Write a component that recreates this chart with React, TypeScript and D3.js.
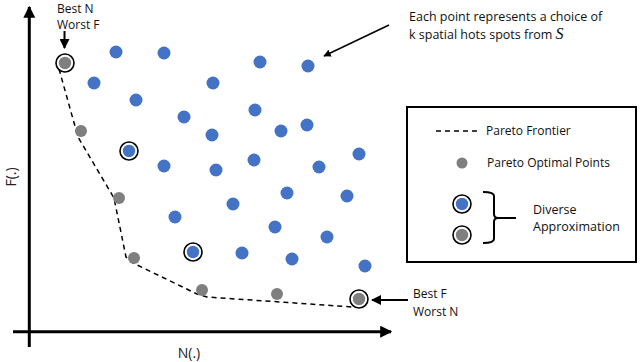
import React, { useEffect, useRef } from 'react';
import * as d3 from 'd3';

// candidate solutions (N, F) in arbitrary units
const candN = [8.6, 13.4, 23.0, 27.8, 6.4, 18.3, 10.6, 15.4, 22.5, 27.7, 25.1, 18.2, 9.9, 32.9, 13.4, 18.6, 22.4, 28.9, 25.7, 31.7, 20.3, 14.5, 24.5, 29.7, 16.3, 21.2, 26.2, 33.5];
const candF = [28.0, 27.9, 27.0, 26.6, 24.9, 24.9, 23.2, 21.5, 22.2, 20.7, 20.1, 19.7, 18.1, 17.8, 16.6, 16.2, 17.2, 16.5, 13.9, 13.6, 12.8, 11.5, 10.5, 9.5, 8.0, 7.9, 7.3, 6.6];
const candDiverse = [12, 24];

const paretoN = [3.5, 5.1, 8.9, 10.4, 17.2, 24.7, 32.9];
const paretoF = [26.9, 20.1, 13.4, 7.4, 4.2, 3.8, 3.3];
const paretoDiverse = [0, 6];

const frontierN = [2.9, 4.8, 8.4, 9.6, 10.3, 16.7, 17.7, 32.3];
const frontierF = [26.3, 19.5, 13.4, 7.5, 6.9, 3.8, 3.5, 2.5];

const BLUE = '#4472c4';
const GRAY = '#7f7f7f';
const FONT = '"Open Sans", sans-serif';

export default function App() {
  const ref = useRef<SVGSVGElement>(null);

  useEffect(() => {
    const svg = d3.select(ref.current);
    svg.selectAll('*').remove();

    const x = d3.scaleLinear().domain([0, 36]).range([30, 390]);
    const y = d3.scaleLinear().domain([0, 32]).range([332, 12]);

    const defs = svg.append('defs');
    defs.append('marker')
      .attr('id', 'arr')
      .attr('viewBox', '0 0 10 10')
      .attr('refX', 9).attr('refY', 5)
      .attr('markerWidth', 4).attr('markerHeight', 4)
      .attr('orient', 'auto-start-reverse')
      .append('path').attr('d', 'M0,0L10,5L0,10z').attr('fill', '#000');
    defs.append('marker')
      .attr('id', 'arrThin')
      .attr('viewBox', '0 0 10 10')
      .attr('refX', 9).attr('refY', 5)
      .attr('markerWidth', 5).attr('markerHeight', 5)
      .attr('orient', 'auto')
      .append('path').attr('d', 'M0,0L10,5L0,10z').attr('fill', '#000');

    // axes
    svg.append('line')
      .attr('x1', x(0) - 0.7).attr('x2', x(0) - 0.7)
      .attr('y1', y(0) + 15).attr('y2', 7)
      .attr('stroke', '#000').attr('stroke-width', 3)
      .attr('marker-end', 'url(#arr)');
    svg.append('line')
      .attr('x1', 13).attr('x2', 391)
      .attr('y1', y(0) - 0.3).attr('y2', y(0) - 0.3)
      .attr('stroke', '#000').attr('stroke-width', 3)
      .attr('marker-end', 'url(#arr)');

    svg.append('text')
      .attr('transform', `translate(16,177) rotate(-90)`)
      .attr('text-anchor', 'middle')
      .attr('font-family', FONT).attr('font-size', 14).attr('fill', '#222')
      .text('F(.)');
    svg.append('text')
      .attr('x', 189).attr('y', 358)
      .attr('text-anchor', 'middle')
      .attr('font-family', FONT).attr('font-size', 14).attr('fill', '#222')
      .text('N(.)');

    // frontier
    const frontier = d3.line<number>()
      .x(i => x(frontierN[i]))
      .y(i => y(frontierF[i]));
    svg.append('path')
      .attr('d', frontier(d3.range(frontierN.length)))
      .attr('fill', 'none')
      .attr('stroke', '#000')
      .attr('stroke-width', 1.5)
      .attr('stroke-dasharray', '5,4');

    const ringed = (g: any, cx: number, cy: number, fill: string) => {
      g.append('circle').attr('cx', cx).attr('cy', cy).attr('r', 9)
        .attr('fill', '#fff').attr('stroke', '#000').attr('stroke-width', 1.6);
      g.append('circle').attr('cx', cx).attr('cy', cy).attr('r', 6.2).attr('fill', fill);
    };

    const pts = svg.append('g');
    candN.forEach((n, i) => {
      if (candDiverse.includes(i)) ringed(pts, x(n), y(candF[i]), BLUE);
      else pts.append('circle').attr('cx', x(n)).attr('cy', y(candF[i])).attr('r', 6.5).attr('fill', BLUE);
    });
    paretoN.forEach((n, i) => {
      if (paretoDiverse.includes(i)) ringed(pts, x(n), y(paretoF[i]), GRAY);
      else pts.append('circle').attr('cx', x(n)).attr('cy', y(paretoF[i])).attr('r', 6).attr('fill', GRAY);
    });

    const txt = (tx: number, ty: number, s: string, size = 12.5) =>
      svg.append('text').attr('x', tx).attr('y', ty)
        .attr('font-family', FONT).attr('font-size', size).attr('fill', '#111').text(s);

    // annotations
    txt(57, 13, 'Best N', 12);
    txt(57, 29, 'Worst F', 12);
    svg.append('line').attr('x1', 64.5).attr('x2', 64.5).attr('y1', 31).attr('y2', 48)
      .attr('stroke', '#000').attr('stroke-width', 2).attr('marker-end', 'url(#arrThin)');

    txt(413, 298, 'Best F', 12);
    txt(413, 316, 'Worst N', 12);
    svg.append('line').attr('x1', 408).attr('x2', 372).attr('y1', 300).attr('y2', 300)
      .attr('stroke', '#000').attr('stroke-width', 2).attr('marker-end', 'url(#arrThin)');

    txt(409, 21, 'Each point represents a choice of');
    const t2 = txt(409, 39, 'k spatial hots spots from ');
    t2.append('tspan').attr('font-family', '"Liberation Serif", serif')
      .attr('font-style', 'italic').attr('font-size', 16).text('S');
    svg.append('line').attr('x1', 389).attr('y1', 25).attr('x2', 324).attr('y2', 56)
      .attr('stroke', '#000').attr('stroke-width', 1.5).attr('marker-end', 'url(#arrThin)');

    // legend
    const lg = svg.append('g');
    lg.append('rect').attr('x', 407).attr('y', 107).attr('width', 229).attr('height', 155)
      .attr('fill', 'none').attr('stroke', '#000').attr('stroke-width', 2);
    lg.append('line').attr('x1', 436).attr('x2', 479).attr('y1', 131).attr('y2', 131)
      .attr('stroke', '#000').attr('stroke-width', 1.3).attr('stroke-dasharray', '5,4');
    lg.append('text').attr('x', 486).attr('y', 135).attr('font-family', FONT).attr('font-size', 12).attr('fill', '#111').text('Pareto Frontier');
    lg.append('circle').attr('cx', 462).attr('cy', 163).attr('r', 5.5).attr('fill', GRAY);
    lg.append('text').attr('x', 487).attr('y', 167).attr('font-family', FONT).attr('font-size', 12).attr('fill', '#111').text('Pareto Optimal Points');
    ringed(lg, 462, 204, BLUE);
    ringed(lg, 462, 235, GRAY);
    lg.append('path')
      .attr('d', 'M483,192 Q494,192 494,196 L494,214 Q494,218 498,218 L516,218 M498,218 Q494,218 494,222 L494,239 Q494,243 483,243')
      .attr('fill', 'none').attr('stroke', '#000').attr('stroke-width', 2);
    lg.append('text').attr('x', 533).attr('y', 214).attr('font-family', FONT).attr('font-size', 12.5).attr('fill', '#111').text('Diverse');
    lg.append('text').attr('x', 533).attr('y', 231).attr('font-family', FONT).attr('font-size', 12.5).attr('fill', '#111').text('Approximation');
  }, []);

  return (
    <svg ref={ref} width={640} height={362}
      style={{ position: 'absolute', left: 0, top: 0, background: '#fff' }} />
  );
}
